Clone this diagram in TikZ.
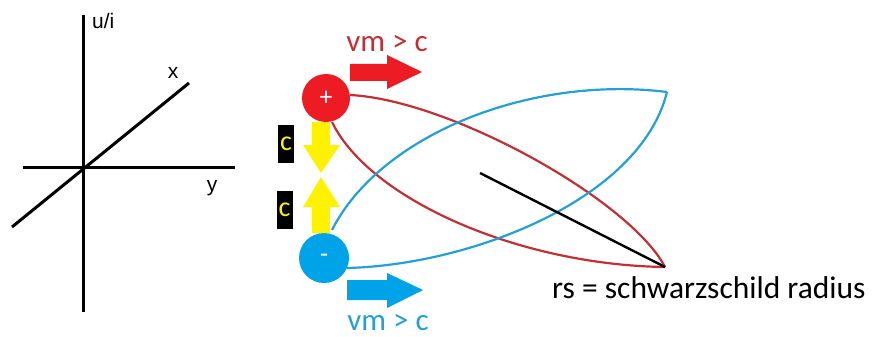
\documentclass[tikz,border=0pt]{standalone}
\usepackage{fontspec}
\setmainfont{Carlito}
\newfontfamily\axfont{Liberation Sans}
\definecolor{pred}{RGB}{237,28,36}
\definecolor{cred}{RGB}{192,48,52}
\definecolor{pblue}{RGB}{0,162,232}
\definecolor{cblue}{RGB}{38,160,212}
\definecolor{pyel}{RGB}{255,242,0}
\tikzset{
  axis/.style={line width=3pt},
  axlab/.style={font=\axfont\fontsize{21}{21}\selectfont, inner sep=0pt},
  curve/.style={line width=2.2pt},
  charge/.style={circle, minimum size=48pt, inner sep=0pt, text=white, font=\fontsize{26}{26}\selectfont},
  clab/.style={fill=black, text=pyel, minimum width=16pt, minimum height=38pt, inner sep=0pt, font=\fontsize{28}{28}\selectfont},
  vlab/.style={font=\fontsize{31}{31}\selectfont, inner sep=0pt}
}
\begin{document}
\begin{tikzpicture}[x=1pt,y=-1pt]
\useasboundingbox (0,0) rectangle (876,337);
% axes
\coordinate (vt) at (83,15); \coordinate (vb) at (83,312);
\coordinate (hl) at (23,167); \coordinate (hr) at (235,167);
\coordinate (dl) at (12,227); \coordinate (dr) at (189,83);
\draw[axis] (vt) -- (vb);
\draw[axis] (hl) -- (hr);
\draw[axis] (dl) -- (dr);
\node[axlab, anchor=base west] (ui) at (92,29) {u/i};
\node[axlab, anchor=base] (xl) at (173,79) {x};
\node[axlab, anchor=base] (yl) at (212,191) {y};
% curves
\coordinate (rend) at (665,267);
\coordinate (bend) at (667,92);
\coordinate (bl) at (480,173);
\draw[curve, cred] (350,95) .. controls (450,100) and (630,200) .. (rend);
\draw[curve, cred] (332,122) .. controls (370,200) and (520,265) .. (rend);
\draw[curve, cblue] (332,230) .. controls (380,135) and (530,75) .. (bend);
\draw[curve, cblue] (347,268) .. controls (470,265) and (640,200) .. (bend);
\draw[line width=2.4pt] (bl) -- (rend);
\node[charge, fill=pred] (plus) at (326,98) {+};
\node[charge, fill=pblue, minimum size=50pt] (minus) at (324,258) {-};
% horizontal arrows
\fill[pred] (350,64) -- (387,64) -- (387,55) -- (422,72) -- (387,89) -- (387,81) -- (350,81) -- cycle;
\fill[pblue] (347,280) -- (387,280) -- (387,273) -- (423,290) -- (387,308) -- (387,300) -- (347,300) -- cycle;
% yellow arrows
\fill[pyel] (312,122) -- (330,122) -- (330,145) -- (340,145) -- (321,173) -- (303,145) -- (312,145) -- cycle;
\fill[pyel] (312,233) -- (330,233) -- (330,207) -- (340,207) -- (321,177) -- (303,207) -- (312,207) -- cycle;
\node[clab] (c1) at (286,144) {c};
\node[clab] (c2) at (284.5,210) {c};
\node[vlab, text=cred, anchor=base] (vr) at (387,52) {vm > c};
\node[vlab, text=cblue, anchor=base] (vb2) at (388,330) {vm > c};
\node[vlab, anchor=base west, font=\fontsize{31.5}{31.5}\selectfont] (rs) at (552,298) {rs = schwarzschild radius};
\end{tikzpicture}
\end{document}
